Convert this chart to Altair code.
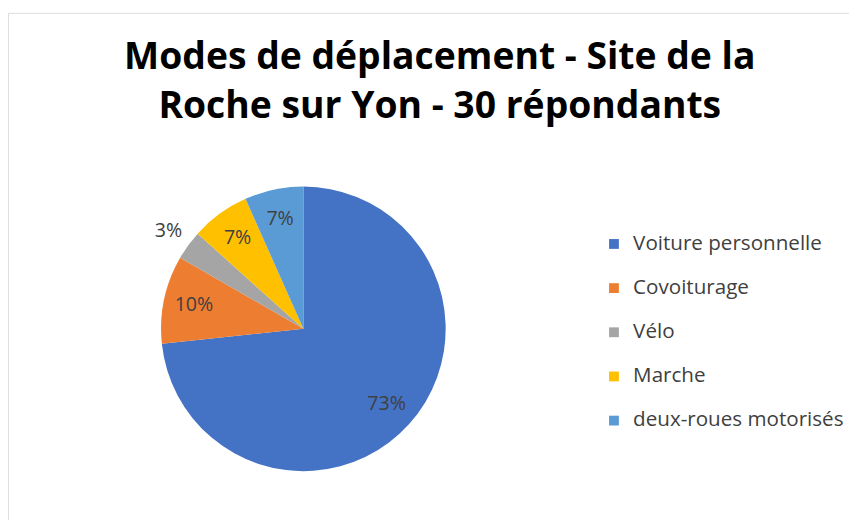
import altair as alt
import math
import pandas as pd

# Data
modes = ["Voiture personnelle", "Covoiturage", "Vélo", "Marche", "deux-roues motorisés"]
counts = [22, 3, 1, 2, 2]
colors = ["#4472C4", "#ED7D31", "#A5A5A5", "#FFC000", "#5B9BD5"]
title_lines = ["Modes de déplacement - Site de la", "Roche sur Yon - 30 répondants"]

total = sum(counts)
df = pd.DataFrame({
    "mode": modes,
    "count": counts,
    "order": list(range(len(modes))),
})
df["pct"] = df["count"] / total
df["label"] = [f"{round(100 * c / total)}%" for c in counts]

CX, CY, R = 301, 322, 145
FONT = "Open Sans"
theta_scale = alt.Scale(domain=[0, total], range=[0, 2 * math.pi])

pie = alt.Chart(df).mark_arc(outerRadius=R).encode(
    theta=alt.Theta("count:Q", stack=True, scale=theta_scale),
    order=alt.Order("order:Q"),
    x=alt.value(CX),
    y=alt.value(CY),
    color=alt.Color(
        "mode:N",
        sort=modes,
        scale=alt.Scale(domain=modes, range=colors),
        legend=alt.Legend(
            orient="none",
            legendX=607,
            legendY=225,
            title=None,
            symbolType="square",
            symbolSize=100,
            symbolStrokeWidth=0,
            labelFontSize=21,
            labelFont=FONT,
            labelColor="#404040",
            labelLimit=400,
            rowPadding=23,
            labelOffset=9,
            padding=0,
        ),
    ),
)

labels = alt.Chart(df).transform_window(
    cum="sum(count)", sort=[alt.SortField("order")], frame=[None, 0]
).transform_calculate(
    mid="datum.cum - datum.count / 2",
    lr="datum.pct < 0.05 ? 170 : 114",
).mark_text(font=FONT, fontSize=20, color="#404040").encode(
    theta=alt.Theta("mid:Q", stack=None, scale=theta_scale),
    radius=alt.Radius("lr:Q", scale=None),
    x=alt.value(CX),
    y=alt.value(CY),
    text="label:N",
)

title = alt.Chart(alt.Data(values=[{"t": "\n".join(title_lines)}])).mark_text(
    font=FONT,
    fontSize=38,
    fontWeight="bold",
    color="#000000",
    align="center",
    baseline="alphabetic",
    lineBreak="\n",
    lineHeight=50,
).encode(
    x=alt.value(440),
    y=alt.value(57),
    text="t:N",
)

chart = alt.layer(pie, labels, title).properties(
    width=857,
    height=520,
    padding=0,
    autosize=alt.AutoSizeParams(type="none"),
).configure_view(
    stroke="#BFBFBF",
    strokeWidth=1,
).configure(background="white")

chart.save("out.html", embed_options={"renderer": "svg", "actions": False})
